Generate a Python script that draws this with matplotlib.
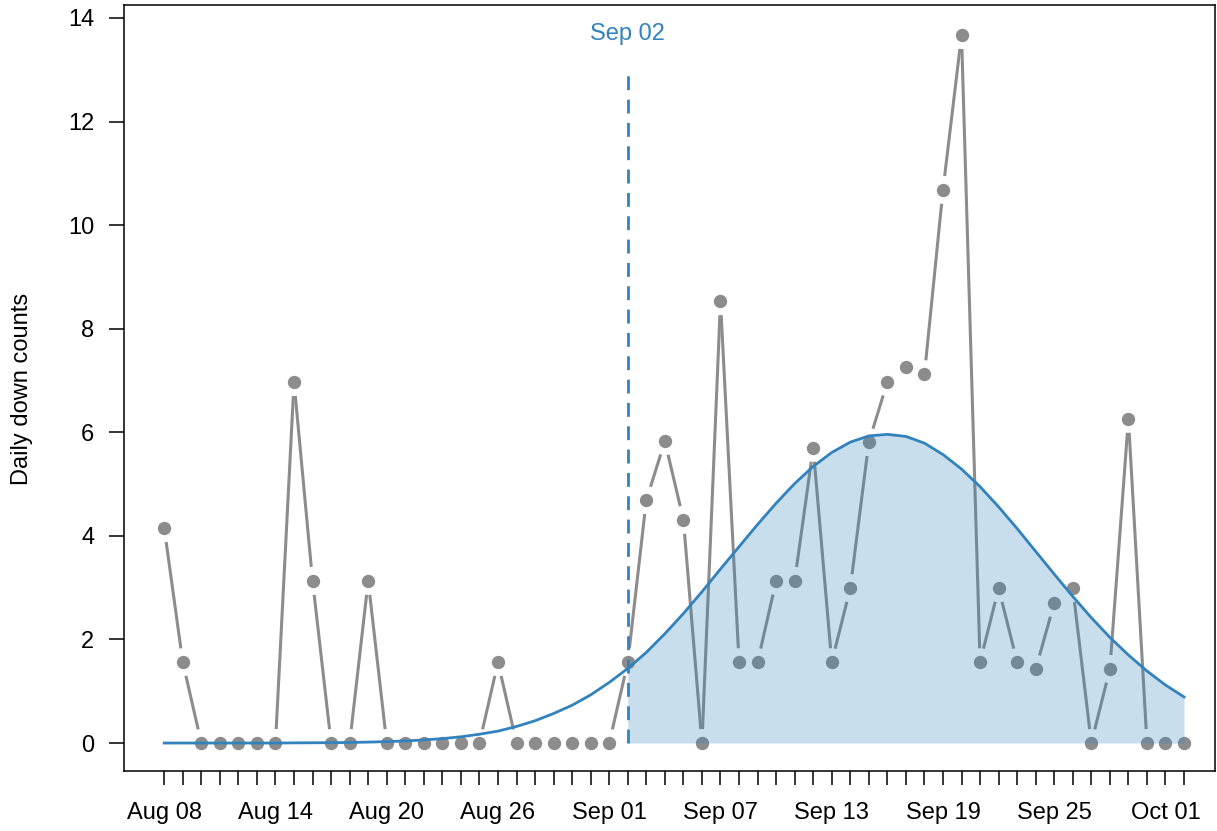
import matplotlib
matplotlib.use('Agg')
import matplotlib.pyplot as plt
import matplotlib.dates as mdates
from matplotlib.collections import LineCollection
import numpy as np
import pandas as pd

# daily observations, Aug 08 .. Oct 02
dates = pd.date_range('2020-08-08', '2020-10-02', freq='D')
down_counts = [4.15, 1.56, 0, 0, 0, 0, 0, 6.97, 3.13, 0,
               0, 3.13, 0, 0, 0, 0, 0, 0, 1.56, 0,
               0, 0, 0, 0, 0, 1.56, 4.69, 5.83, 4.31, 0,
               8.53, 1.56, 1.56, 3.13, 3.13, 5.70, 1.56, 2.99, 5.81, 6.97,
               7.26, 7.12, 10.68, 13.67, 1.56, 2.99, 1.56, 1.43, 2.70, 2.99,
               0, 1.43, 6.26, 0, 0, 0]
# smoothed trend
trend = [0, 0, 0, 0, 0, 0, 0, 0.003, 0.005, 0.007,
         0.011, 0.018, 0.027, 0.04, 0.06, 0.085, 0.12, 0.17, 0.23, 0.32,
         0.43, 0.57, 0.73, 0.93, 1.17, 1.44, 1.75, 2.11, 2.50, 2.92,
         3.36, 3.79, 4.22, 4.63, 5.01, 5.34, 5.61, 5.81, 5.93, 5.96,
         5.92, 5.79, 5.57, 5.29, 4.95, 4.56, 4.14, 3.70, 3.26, 2.83,
         2.42, 2.04, 1.70, 1.39, 1.12, 0.89]
event_date = pd.Timestamp('2020-09-02')
event_top = 13
y_ticks = [0, 2, 4, 6, 8, 10, 12, 14]

plt.rcParams['font.family'] = ['Liberation Sans', 'DejaVu Sans']

gray = '#8c8c8c'
blue = '#3182bd'
fs = 17

fig = plt.figure(figsize=(12.17, 8.31), dpi=100)
ax = fig.add_axes([124 / 1217, 1 - 771 / 831, (1215 - 124) / 1217, (771 - 5) / 831])

x = mdates.date2num(dates)
y = np.array(down_counts, dtype=float)
ax.set_xlim(x[0] - 2.17, x[-1] + 1.67)
ax.set_ylim(-0.54, 14.25)

# line segments with a gap around each point (like type="b")
pts = ax.transData.transform(np.column_stack([x, y]))
gap = 14
segs = []
for p, q in zip(pts[:-1], pts[1:]):
    d = q - p
    L = np.hypot(d[0], d[1])
    if L <= 2 * gap:
        continue
    u = d / L
    segs.append(np.array([p + u * gap, q - u * gap]))
inv = ax.transData.inverted()
segs = [inv.transform(s) for s in segs]
ax.add_collection(LineCollection(segs, colors=gray, linewidths=2.2,
                                 capstyle='butt', zorder=2))
ax.plot(x, y, 'o', color=gray, markersize=9.6, markeredgewidth=0, zorder=3)

# shaded area after the event
ev = mdates.date2num(event_date)
mask = x >= ev
ax.fill_between(x[mask], 0, np.array(trend)[mask], color=blue, alpha=0.26,
                linewidth=0, zorder=4)
ax.plot(x, trend, color=blue, lw=2.0, zorder=5)
ax.plot([ev, ev], [0, event_top], color=blue, lw=2.0, ls=(0, (5, 3.4)), zorder=5)
ax.text(ev, 13.69, 'Sep 02', color=blue, ha='center', va='center', fontsize=fs)

# axes
ax.set_xticks(x[::6])
ax.set_xticklabels([d.strftime('%b %d') for d in dates[::6]], fontsize=fs)
ax.set_xticks(x, minor=True)
ax.tick_params(axis='x', which='both', direction='out', length=10, width=1.1, pad=12.5)
ax.set_yticks(y_ticks)
ax.set_yticklabels([str(v) for v in y_ticks], fontsize=fs)
ax.tick_params(axis='y', direction='out', length=10.5, width=1.1, pad=11)
for s in ax.spines.values():
    s.set_linewidth(1.1)

fig.text(22 / 1217, 1 - 389 / 831, 'Daily down counts', rotation=90,
         ha='center', va='center', fontsize=fs)

fig.savefig('out.png', dpi=100)
